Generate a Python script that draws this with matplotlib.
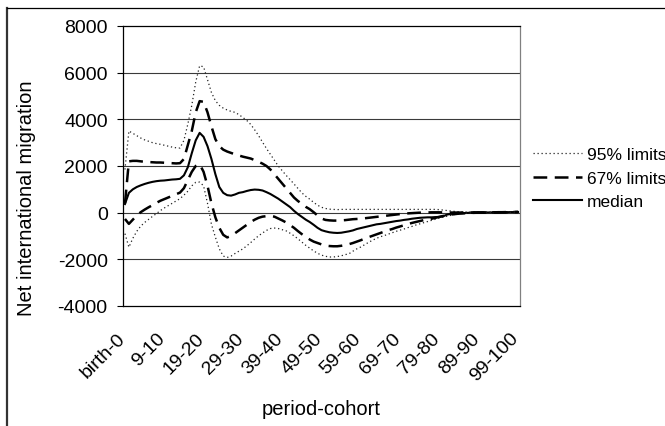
import numpy as np
import matplotlib
matplotlib.use("Agg")
import matplotlib.pyplot as plt
from matplotlib.lines import Line2D
from matplotlib.transforms import ScaledTranslation

plt.rcParams['font.family'] = ['Liberation Sans', 'DejaVu Sans']

# ---- data ----
categories = ["birth-0"] + [f"{i}-{i+1}" for i in range(100)]
tick_labels = ["birth-0", "9-10", "19-20", "29-30", "39-40", "49-50",
               "59-60", "69-70", "79-80", "89-90", "99-100"]

median = [370, 850, 1000, 1100, 1170, 1230, 1280, 1320, 1350, 1370,
          1380, 1400, 1420, 1430, 1450, 1600, 1950, 2550, 3100, 3420,
          3250, 2850, 2300, 1650, 1100, 850, 750, 730, 780, 850,
          880, 930, 970, 990, 980, 950, 880, 800, 700, 600,
          480, 360, 240, 80, -60, -180, -300, -400, -520, -650,
          -750, -800, -840, -860, -870, -860, -830, -800, -760, -700,
          -660, -620, -580, -540, -500, -480, -450, -420, -390, -360,
          -340, -310, -290, -260, -240, -220, -210, -200, -200, -190,
          -180, -150, -80, -50, -40, -30, -20, -10, 0, 0,
          5, 5, 10, 10, 15, 15, 20, 20, 25, 25, 30]

upper67 = [400, 2200, 2220, 2220, 2200, 2180, 2170, 2160, 2150, 2150,
           2140, 2130, 2120, 2110, 2120, 2300, 2900, 3500, 4300, 4780,
           4750, 4300, 3700, 3150, 2850, 2700, 2620, 2560, 2500, 2450,
           2400, 2360, 2320, 2250, 2180, 2100, 2000, 1850, 1650, 1450,
           1250, 1050, 850, 650, 500, 380, 250, 150, 20, -120,
           -250, -310, -330, -340, -340, -330, -320, -300, -280, -270,
           -260, -240, -220, -200, -180, -160, -140, -120, -100, -80,
           -60, -40, -30, -20, -10, 0, 0, 10, 15, 15,
           15, 10, 5, 5, 5, 5, 5, 5, 5, 10,
           10, 10, 10, 15, 15, 20, 20, 25, 25, 30, 30]

upper95 = [1850, 3500, 3400, 3300, 3200, 3120, 3060, 3000, 2960, 2930,
           2890, 2850, 2810, 2780, 2770, 3100, 3800, 4600, 5600, 6300,
           6250, 5700, 5150, 4800, 4600, 4480, 4400, 4340, 4300, 4200,
           4080, 3950, 3780, 3550, 3300, 3020, 2750, 2500, 2250, 2000,
           1800, 1600, 1420, 1230, 1040, 850, 700, 580, 440, 320,
           230, 180, 150, 140, 130, 140, 140, 140, 140, 140,
           140, 140, 140, 140, 140, 140, 140, 140, 140, 140,
           140, 140, 140, 140, 140, 140, 140, 140, 140, 140,
           130, 110, 90, 70, 50, 40, 30, 25, 25, 25,
           20, 20, 20, 20, 20, 20, 20, 20, 25, 25, 30]

lower67 = [-270, -480, -300, -120, 20, 130, 230, 320, 420, 510,
           580, 650, 720, 790, 860, 1050, 1400, 1750, 2000, 2080,
           1750, 1150, 400, -200, -650, -950, -1060, -1000, -880, -760,
           -640, -520, -400, -300, -220, -170, -150, -150, -170, -250,
           -330, -420, -530, -650, -790, -920, -1040, -1150, -1240, -1300,
           -1360, -1410, -1430, -1440, -1440, -1420, -1390, -1350, -1300, -1240,
           -1180, -1110, -1050, -990, -930, -870, -810, -750, -700, -640,
           -590, -540, -490, -440, -400, -360, -320, -290, -260, -220,
           -180, -140, -110, -80, -60, -40, -30, -20, -10, -5,
           0, 0, 5, 5, 10, 10, 15, 15, 20, 25, 30]

lower95 = [-900, -1480, -1100, -800, -580, -420, -290, -160, -40, 90,
           200, 300, 400, 500, 600, 750, 920, 1150, 1300, 1310,
           1150, 400, -500, -1050, -1550, -1860, -1920, -1860, -1750, -1650,
           -1550, -1420, -1280, -1130, -990, -870, -760, -680, -660, -680,
           -730, -780, -880, -990, -1120, -1260, -1400, -1520, -1640, -1740,
           -1820, -1870, -1900, -1900, -1880, -1850, -1800, -1760, -1650, -1550,
           -1470, -1370, -1270, -1180, -1100, -1030, -980, -920, -860, -800,
           -750, -700, -640, -590, -530, -480, -430, -380, -330, -280,
           -230, -190, -150, -110, -70, -50, -30, -20, -10, -5,
           0, 0, 5, 5, 10, 10, 15, 15, 20, 25, 30]

y_ticks = [-4000, -2000, 0, 2000, 4000, 6000, 8000]

# ---- figure ----
W, H = 665, 427
fig = plt.figure(figsize=(W / 100, H / 100), dpi=100)
ax = fig.add_axes([123 / W, 1 - 307 / H, (520 - 123) / W, 280 / H])

x = np.arange(len(categories))

ax.plot(x, upper95, color='#222222', lw=0.9, ls=(0, (1, 2.2)), label='95% limits')
ax.plot(x, upper67, color='black', lw=1.8, ls=(0, (5.5, 3)), label='67% limits')
ax.plot(x, median, color='black', lw=1.5, ls='-', label='median')
ax.plot(x, lower95, color='#222222', lw=0.9, ls=(0, (1, 2.2)))
ax.plot(x, lower67, color='black', lw=1.8, ls=(0, (5.5, 3)))

ax.set_xlim(-0.5, len(categories) - 0.5)
ax.set_ylim(-4000, 8000)
ax.set_yticks(y_ticks)
ax.set_yticklabels([str(v) for v in y_ticks], fontsize=14)
for v in y_ticks[1:-1]:
    ax.axhline(v, color='#3a3a3a', lw=0.8, zorder=0)

idx = [categories.index(t) for t in tick_labels]
ax.set_xticks(idx)
ax.set_xticklabels(tick_labels, fontsize=14, rotation=45, ha='right',
                   va='center', rotation_mode='anchor')
ax.tick_params(axis='x', length=0, pad=21)
ax.tick_params(axis='y', length=4, width=0.8, pad=7, direction='out')
off = ScaledTranslation(-2 / 100, 0, fig.dpi_scale_trans)
for lab in ax.get_xticklabels():
    lab.set_transform(lab.get_transform() + off)

for s in ['left', 'bottom', 'top']:
    ax.spines[s].set_color('black')
    ax.spines[s].set_linewidth(0.9)
ax.spines['right'].set_color('#808080')
ax.spines['right'].set_linewidth(0.9)

fig.text(27 / W, 1 - 198 / H, 'Net international migration', rotation=90,
         ha='center', va='center', fontsize=14.5)
fig.text(321 / W, 1 - 410 / H, 'period-cohort', ha='center', va='center',
         fontsize=14.5)

ax.legend(loc='center left', bbox_to_anchor=(533 / W, 1 - 179 / H),
          bbox_transform=fig.transFigure, frameon=False, fontsize=12.5,
          handlelength=2.8, handletextpad=0.3, labelspacing=0.48,
          borderpad=0, borderaxespad=0)

# outer chart border (partially outside image)
fig.add_artist(Line2D([6.5 / W, 6.5 / W], [0, 1 - 9 / H], transform=fig.transFigure,
                      color='#333333', lw=1.6))
fig.add_artist(Line2D([6.5 / W, 1], [1 - 9 / H, 1 - 9 / H], transform=fig.transFigure,
                      color='black', lw=0.9))

fig.savefig('out.png', dpi=100)
